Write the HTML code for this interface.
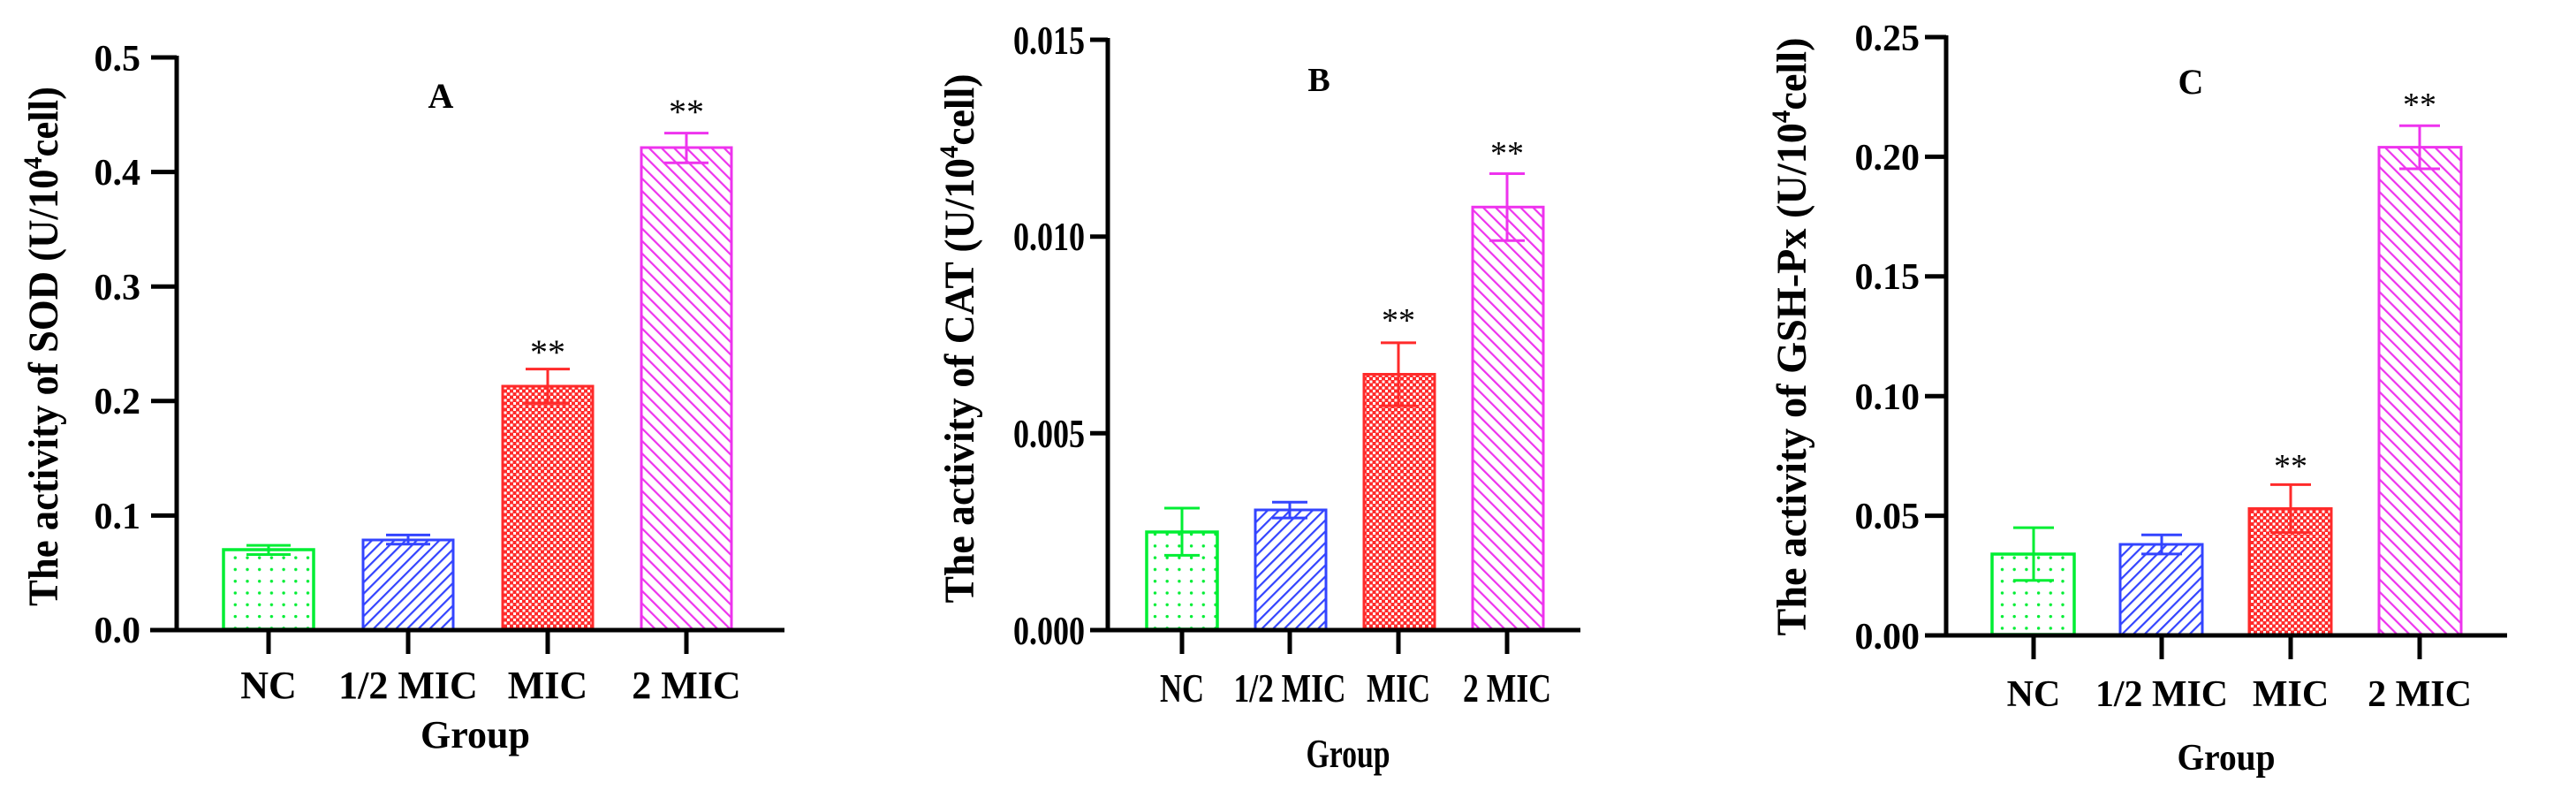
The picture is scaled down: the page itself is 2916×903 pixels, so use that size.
<!DOCTYPE html>
<html><head><meta charset="utf-8"><style>html,body{margin:0;padding:0;background:#fff}svg{display:block}</style></head>
<body>
<svg width="2916" height="903" viewBox="0 0 2916 903" xmlns="http://www.w3.org/2000/svg" font-family="Liberation Serif, serif" font-weight="bold">
<defs>
<pattern id="dots" width="13.7" height="13.3" patternUnits="userSpaceOnUse"><circle cx="6" cy="6" r="1.7" fill="#00ee33"/></pattern>
<pattern id="blue" width="9" height="9" patternUnits="userSpaceOnUse" patternTransform="rotate(45)"><rect x="0" y="0" width="2.2" height="9" fill="#3344ff"/></pattern>
<pattern id="red" width="7" height="7" patternUnits="userSpaceOnUse"><rect width="7" height="7" fill="#ff2a2a"/><rect x="0" y="0" width="3" height="3" fill="#fff"/><rect x="3.5" y="3.5" width="3" height="3" fill="#fff"/></pattern>
<pattern id="mag" width="10" height="10" patternUnits="userSpaceOnUse" patternTransform="rotate(-45)"><rect x="0" y="0" width="2.2" height="10" fill="#ee33ee"/></pattern>
</defs>

<!-- Panel A -->
<g>
<rect x="253" y="622" width="102" height="90" fill="url(#dots)" stroke="#00ee33" stroke-width="3.5"/>
<rect x="411" y="611" width="102" height="101" fill="url(#blue)" stroke="#3344ff" stroke-width="3"/>
<rect x="569" y="437" width="102" height="275" fill="url(#red)" stroke="#ff2a2a" stroke-width="3"/>
<rect x="726" y="167" width="102" height="545" fill="url(#mag)" stroke="#ee33ee" stroke-width="3"/>
<g stroke-width="3">
<path d="M304 627.5V617.1M279 617.1H329M279 627.5H329" stroke="#00ee33"/>
<path d="M462 615.8V605.4M437 605.4H487M437 615.8H487" stroke="#3344ff"/>
<path d="M620 456.4V417.6M595 417.6H645M595 456.4H645" stroke="#ff2a2a"/>
<path d="M777 184.2V150.6M752 150.6H802M752 184.2H802" stroke="#ee33ee"/>
</g>
<g stroke="#000" stroke-width="5" fill="none">
<path d="M200 63V713M170 713H888"/>
<path d="M171 65H200M171 194.6H200M171 324.2H200M171 453.8H200M171 583.4H200"/>
<path d="M304 713V740M462 713V740M620 713V740M777 713V740"/>
</g>
<g font-size="42" text-anchor="end">
<text x="159" y="727">0.0</text><text x="159" y="598">0.1</text><text x="159" y="468">0.2</text><text x="159" y="339">0.3</text><text x="159" y="209">0.4</text><text x="159" y="80">0.5</text>
</g>
<g font-size="44" text-anchor="middle">
<text x="304" y="790">NC</text><text x="462" y="790">1/2 MIC</text><text x="620" y="790">MIC</text><text x="777" y="790">2 MIC</text>
<text x="538" y="846">Group</text>
<text x="499" y="122" font-size="40">A</text>
</g>
<g font-size="40" font-weight="normal" text-anchor="middle"><text x="620" y="412">**</text><text x="777" y="140">**</text></g>
<text transform="translate(65,392) rotate(-90)" text-anchor="middle" font-size="48" textLength="588" lengthAdjust="spacingAndGlyphs">The activity of SOD (U/10<tspan font-size="30" dy="-18">4</tspan><tspan dy="18">cell)</tspan></text>
</g>

<!-- Panel B -->
<g>
<rect x="1298" y="602" width="80" height="110" fill="url(#dots)" stroke="#00ee33" stroke-width="3.5"/>
<rect x="1421" y="577" width="80" height="135" fill="url(#blue)" stroke="#3344ff" stroke-width="3"/>
<rect x="1544" y="423.5" width="80" height="288.5" fill="url(#red)" stroke="#ff2a2a" stroke-width="3"/>
<rect x="1667" y="234.3" width="80" height="477.7" fill="url(#mag)" stroke="#ee33ee" stroke-width="3"/>
<g stroke-width="3">
<path d="M1338 628.4V575M1318 575H1358M1318 628.4H1358" stroke="#00ee33"/>
<path d="M1460 586.1V568.3M1440 568.3H1480M1440 586.1H1480" stroke="#3344ff"/>
<path d="M1583 459.1V387.9M1563 387.9H1603M1563 459.1H1603" stroke="#ff2a2a"/>
<path d="M1706 272.2V196.5M1686 196.5H1726M1686 272.2H1726" stroke="#ee33ee"/>
</g>
<g stroke="#000" stroke-width="5" fill="none">
<path d="M1254 43V713M1234 713H1789"/>
<path d="M1234 45H1254M1234 267.7H1254M1234 490.3H1254"/>
<path d="M1338 713V740M1460 713V740M1583 713V740M1706 713V740"/>
</g>
<g font-size="46" text-anchor="end">
<text x="1228" y="729" textLength="81" lengthAdjust="spacingAndGlyphs">0.000</text>
<text x="1228" y="506" textLength="81" lengthAdjust="spacingAndGlyphs">0.005</text>
<text x="1228" y="283" textLength="81" lengthAdjust="spacingAndGlyphs">0.010</text>
<text x="1228" y="61" textLength="81" lengthAdjust="spacingAndGlyphs">0.015</text>
</g>
<g font-size="46" text-anchor="middle">
<text x="1338" y="794" textLength="50" lengthAdjust="spacingAndGlyphs">NC</text>
<text x="1460" y="794" textLength="127" lengthAdjust="spacingAndGlyphs">1/2 MIC</text>
<text x="1583" y="794" textLength="72" lengthAdjust="spacingAndGlyphs">MIC</text>
<text x="1706" y="794" textLength="100" lengthAdjust="spacingAndGlyphs">2 MIC</text>
<text x="1526" y="868" textLength="95" lengthAdjust="spacingAndGlyphs">Group</text>
<text x="1493" y="103" font-size="38">B</text>
</g>
<g font-size="38" font-weight="normal" text-anchor="middle"><text x="1583" y="375">**</text><text x="1706" y="186">**</text></g>
<text transform="translate(1102,383) rotate(-90)" text-anchor="middle" font-size="48" textLength="599" lengthAdjust="spacingAndGlyphs">The activity of CAT (U/10<tspan font-size="30" dy="-18">4</tspan><tspan dy="18">cell)</tspan></text>
</g>

<!-- Panel C -->
<g>
<rect x="2255" y="627" width="93" height="91" fill="url(#dots)" stroke="#00ee33" stroke-width="3.5"/>
<rect x="2400" y="616" width="93" height="102" fill="url(#blue)" stroke="#3344ff" stroke-width="3"/>
<rect x="2546" y="575.5" width="93" height="142.5" fill="url(#red)" stroke="#ff2a2a" stroke-width="3"/>
<rect x="2693" y="166.6" width="93" height="551.4" fill="url(#mag)" stroke="#ee33ee" stroke-width="3"/>
<g stroke-width="3">
<path d="M2302 656.7V597.1M2279 597.1H2325M2279 656.7H2325" stroke="#00ee33"/>
<path d="M2447 626.9V605.3M2424 605.3H2470M2424 626.9H2470" stroke="#3344ff"/>
<path d="M2593 602.6V548.4M2570 548.4H2616M2570 602.6H2616" stroke="#ff2a2a"/>
<path d="M2739 191V142.2M2716 142.2H2762M2716 191H2762" stroke="#ee33ee"/>
</g>
<g stroke="#000" stroke-width="5" fill="none">
<path d="M2203 40V719M2179 719H2838"/>
<path d="M2179 42H2203M2179 177.4H2203M2179 312.8H2203M2179 448.2H2203M2179 583.6H2203"/>
<path d="M2302 719V746M2447 719V746M2593 719V746M2739 719V746"/>
</g>
<g font-size="42" text-anchor="end">
<text x="2173" y="734">0.00</text><text x="2173" y="598">0.05</text><text x="2173" y="463">0.10</text><text x="2173" y="327">0.15</text><text x="2173" y="192">0.20</text><text x="2173" y="57">0.25</text>
</g>
<g font-size="42" text-anchor="middle">
<text x="2302" y="799">NC</text>
<text x="2447" y="799" textLength="150" lengthAdjust="spacingAndGlyphs">1/2 MIC</text>
<text x="2593" y="799">MIC</text>
<text x="2739" y="799">2 MIC</text>
<text x="2520" y="871" textLength="111" lengthAdjust="spacingAndGlyphs">Group</text>
<text x="2480" y="106" font-size="40">C</text>
</g>
<g font-size="38" font-weight="normal" text-anchor="middle"><text x="2593" y="540">**</text><text x="2739" y="131">**</text></g>
<text transform="translate(2044,381) rotate(-90)" text-anchor="middle" font-size="48" textLength="677" lengthAdjust="spacingAndGlyphs">The activity of GSH-Px (U/10<tspan font-size="30" dy="-18">4</tspan><tspan dy="18">cell)</tspan></text>
</g>
</svg>
</body></html>
